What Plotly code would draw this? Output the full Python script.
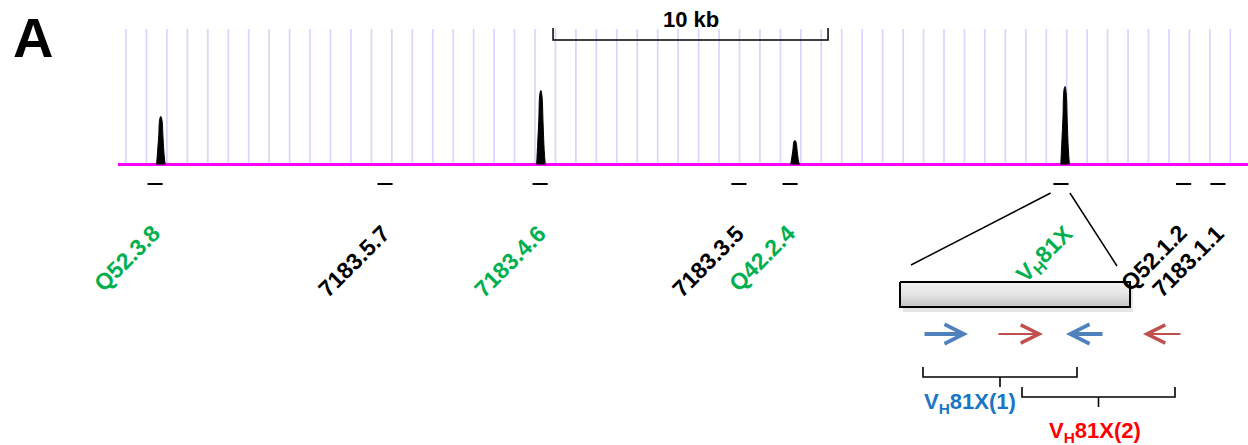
import plotly.graph_objects as go

# ---------------- data ----------------
# main genomic track (positions in kb from the left end of the track)
peak_kb = [1.56, 15.38, 24.62, 34.44]
peak_height = [48, 74, 24, 78]          # coverage (arbitrary units)

gene_names = ["Q52.3.8", "7183.5.7", "7183.4.6", "7183.3.5", "Q42.2.4",
              "V<sub>H</sub>81X", "Q52.1.2", "7183.1.1"]
gene_kb = [1.35, 9.71, 15.35, 22.58, 24.44, 34.29, 38.75, 40.0]
gene_functional = [True, False, True, False, True, True, False, False]
gene_len_kb = 0.55
scale_bar_start_kb = 15.82
scale_bar_len_kb = 10

# inset: V_H81X gene (bp)
inset_gene_bp = [0, 460]
primer_set = [1, 2, 1, 2]
primer_tail_bp = [46, 194, 408, 564]
primer_head_bp = [136, 286, 332, 486]
amplicon_names = ["V<sub>H</sub>81X(1)", "V<sub>H</sub>81X(2)"]
amplicon_start_bp = [46, 244]
amplicon_end_bp = [354, 550]

# ---------------- layout helpers ----------------
W, H = 1248, 445
BASE_PX = 164.5            # pixel row of the track baseline
TRACK_X0 = 118             # pixel column of 0 kb
PX_PER_KB = 27.5
INSET_X0 = 900             # pixel column of inset bp 0
PX_PER_BP = 0.5


def yv(px):
    return BASE_PX - px


def kb_of_px(px):
    return (px - TRACK_X0) / PX_PER_KB


def bp_of_px(px):
    return (px - INSET_X0) / PX_PER_BP


GREEN = "#00B050"
FONT = "Liberation Sans, Arial, sans-serif"

fig = go.Figure()

# grid lines of the browser track
grid_x, grid_y = [], []
k = 0
while True:
    gx = kb_of_px(126 + k * 20.45)
    if gx > kb_of_px(1232):
        break
    grid_x += [gx, gx, None]
    grid_y += [0, yv(29), None]
    k += 1
fig.add_trace(go.Scatter(x=grid_x, y=grid_y, mode="lines",
                         line=dict(color="#D6D6FF", width=1.7),
                         hoverinfo="skip", showlegend=False))

# baseline
fig.add_trace(go.Scatter(x=[0, kb_of_px(W)], y=[0, 0], mode="lines",
                         line=dict(color="#FF00FF", width=3),
                         hoverinfo="skip", showlegend=False))

# coverage peaks
prof_dx = [-1, -0.75, -0.5, -0.25, 0, 0.25, 0.5, 0.75, 1]
prof_h = [0, 0.3, 0.6, 0.96, 1, 0.92, 0.55, 0.2, 0]
half_w = 4.3 / PX_PER_KB
for c, h in zip(peak_kb, peak_height):
    fig.add_trace(go.Scatter(x=[c + d * half_w for d in prof_dx],
                             y=[h * f for f in prof_h],
                             mode="lines", fill="toself", fillcolor="black",
                             line=dict(color="black", width=1, shape="spline"),
                             hoverinfo="skip", showlegend=False))

# gene dashes
gx, gy = [], []
for g in gene_kb:
    gx += [g - gene_len_kb / 2, g + gene_len_kb / 2, None]
    gy += [yv(184), yv(184), None]
fig.add_trace(go.Scatter(x=gx, y=gy, mode="lines",
                         line=dict(color="black", width=2),
                         hoverinfo="skip", showlegend=False))

# scale bar
sb0 = scale_bar_start_kb
sb1 = scale_bar_start_kb + scale_bar_len_kb
fig.add_trace(go.Scatter(x=[sb0, sb0, sb1, sb1], y=[yv(28), yv(40), yv(40), yv(28)],
                         mode="lines", line=dict(color="black", width=1.5),
                         hoverinfo="skip", showlegend=False))

annotations = []
annotations.append(dict(x=(sb0 + sb1) / 2, y=yv(19), xref="x", yref="y",
                        text="%d kb" % scale_bar_len_kb, showarrow=False,
                        font=dict(family=FONT, size=22, color="black", weight="bold")))
annotations.append(dict(x=33 / W, y=1 - 37 / H, xref="paper", yref="paper",
                        xanchor="center", yanchor="middle",
                        text="A", showarrow=False,
                        font=dict(family=FONT, size=56, color="black", weight="bold")))

# gene labels (right/top end of each rotated label sits just past its gene)
label_gap_px = [13, 13, 14, 13, 13, 22, 11, 14]
for name, g, f, gap in zip(gene_names, gene_kb, gene_functional, label_gap_px):
    annotations.append(dict(x=g + gap / PX_PER_KB, y=yv(217), xref="x", yref="y",
                            text=name, showarrow=False, textangle=-45,
                            xanchor="right", yanchor="top",
                            font=dict(family=FONT, size=23,
                                      color=GREEN if f else "black", weight="bold")))

# zoom lines from V_H81X gene to inset box
vh = gene_kb[5]
fig.add_trace(go.Scatter(x=[vh - gene_len_kb / 2 - 0.1, kb_of_px(911)],
                         y=[yv(193), yv(265)], mode="lines",
                         line=dict(color="black", width=1.5),
                         hoverinfo="skip", showlegend=False))
fig.add_trace(go.Scatter(x=[vh + gene_len_kb / 2 + 0.05, kb_of_px(1117)],
                         y=[yv(193), yv(266)], mode="lines",
                         line=dict(color="black", width=1.5),
                         hoverinfo="skip", showlegend=False))

# inset gene box (x2 axis, bp)
b0, b1 = inset_gene_bp
sh = 3 / PX_PER_BP
fig.add_trace(go.Scatter(x=[b0 + sh, b1 + sh, b1 + sh, b0 + sh, b0 + sh],
                         y=[yv(286), yv(286), yv(312), yv(312), yv(286)],
                         xaxis="x2", mode="lines", fill="toself",
                         fillcolor="rgba(0,0,0,0.10)", line=dict(width=0),
                         hoverinfo="skip", showlegend=False))
fig.add_trace(go.Scatter(x=[b0, b1, b1, b0, b0],
                         y=[yv(282), yv(282), yv(307), yv(307), yv(282)],
                         xaxis="x2", mode="lines", fill="toself",
                         fillgradient=dict(type="vertical",
                                           colorscale=[[0, "#C4C4C4"], [0.55, "#E6E6E6"], [1, "#F2F2F2"]]),
                         line=dict(color="black", width=2),
                         hoverinfo="skip", showlegend=False))

# primers
for s, t, hd in zip(primer_set, primer_tail_bp, primer_head_bp):
    col = "#4F81BD" if s == 1 else "#C0504D"
    wdt = 3.8 if s == 1 else 2
    size = 1.0 if s == 1 else 1.8
    annotations.append(dict(x=hd, y=yv(334), ax=t, ay=yv(334),
                            xref="x2", yref="y", axref="x2", ayref="y",
                            text="", showarrow=True, arrowhead=5,
                            arrowwidth=wdt, arrowsize=size, arrowcolor=col,
                            standoff=0, startstandoff=0))

# amplicon braces and labels
brace_rows = [(367, 377, 387), (387, 397, 407)]
label_pos = [(970, 403), (1095, 432)]
label_cols = ["#1B75C5", "#FF0000"]
for name, a0, a1, (r0, r1, r2), (lx, ly), lc in zip(amplicon_names, amplicon_start_bp,
                                                     amplicon_end_bp, brace_rows,
                                                     label_pos, label_cols):
    mid = (a0 + a1) / 2
    fig.add_trace(go.Scatter(x=[a0, a0, a1, a1, None, mid, mid],
                             y=[yv(r0), yv(r1), yv(r1), yv(r0), None, yv(r1), yv(r2)],
                             xaxis="x2", mode="lines",
                             line=dict(color="black", width=1.6),
                             hoverinfo="skip", showlegend=False))
    annotations.append(dict(x=bp_of_px(lx), y=yv(ly), xref="x2", yref="y",
                            text=name, showarrow=False,
                            font=dict(family=FONT, size=22, color=lc, weight="bold")))

fig.update_layout(
    width=W, height=H,
    margin=dict(l=0, r=0, t=0, b=0),
    paper_bgcolor="white", plot_bgcolor="white",
    xaxis=dict(range=[kb_of_px(0), kb_of_px(W)], visible=False, fixedrange=True),
    xaxis2=dict(range=[bp_of_px(0), bp_of_px(W)], overlaying="x", visible=False),
    yaxis=dict(range=[yv(H), yv(0)], visible=False),
    annotations=annotations,
    showlegend=False,
)

fig.write_html("out.html", config={"displayModeBar": False},
               post_script="document.body.style.margin='0px';document.body.style.overflow='hidden';")
